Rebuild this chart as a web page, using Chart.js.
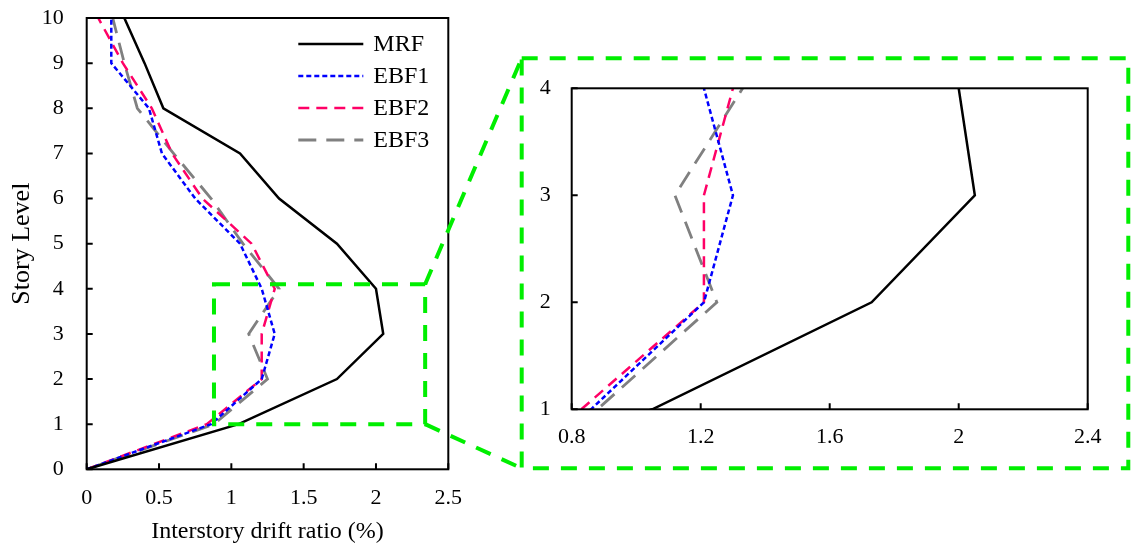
<!DOCTYPE html>
<html><head><meta charset="utf-8">
<script src="https://cdn.jsdelivr.net/npm/chart.js@4.4.1/dist/chart.umd.min.js"></script>
<style>
html,body{margin:0;padding:0;background:#fff;}
#wrap{position:relative;width:1131px;height:550px;overflow:hidden;}
canvas{position:absolute;left:0;top:0;}
</style></head><body>
<div id="wrap"><canvas id="main" width="1131" height="550"></canvas><canvas id="inset" width="1131" height="550"></canvas></div>
<script>
// ---- data ----
const stories = [0, 1, 2, 3, 4, 5, 6, 7, 8, 9, 10];
const mrf  = [0, 1.05, 1.73, 2.05, 2.00, 1.73, 1.33, 1.06, 0.53, 0.40, 0.26];
const ebf1 = [0, 0.86, 1.21, 1.30, 1.21, 1.06, 0.75, 0.52, 0.43, 0.17, 0.17];
const ebf2 = [0, 0.83, 1.21, 1.21, 1.30, 1.14, 0.80, 0.59, 0.45, 0.25, 0.08];
const ebf3 = [0, 0.88, 1.25, 1.12, 1.33, 1.08, 0.86, 0.60, 0.35, 0.26, 0.18];
const seriesNames = ['MRF', 'EBF1', 'EBF2', 'EBF3'];
const mainXTicks = [0, 0.5, 1, 1.5, 2, 2.5];
const mainXLabels = ['0', '0.5', '1', '1.5', '2', '2.5'];
const mainYTicks = [0, 1, 2, 3, 4, 5, 6, 7, 8, 9, 10];
const mainYLabels = ['0', '1', '2', '3', '4', '5', '6', '7', '8', '9', '10'];
const insetXTicks = [0.8, 1.2, 1.6, 2.0, 2.4];
const insetXLabels = ['0.8', '1.2', '1.6', '2', '2.4'];
const insetYTicks = [1, 2, 3, 4];
const insetYLabels = ['1', '2', '3', '4'];
const zoomX = [0.88, 2.34];
const zoomY = [1, 4.1];

// ---- styles ----
const FONT = 'Liberation Serif';
const styles = [
  {color: '#000000', dash: [], width: 2.5},
  {color: '#0000ff', dash: [5, 3], width: 2.5},
  {color: '#ff0066', dash: [11, 7], width: 2.5},
  {color: '#808080', dash: [18, 10], width: 2.8}
];
const GREEN = '#00ee00';

function makeDatasets() {
  return [mrf, ebf1, ebf2, ebf3].map((vals, i) => ({
    label: seriesNames[i],
    data: vals.map((v, k) => ({x: v, y: stories[k]})),
    borderColor: styles[i].color,
    backgroundColor: styles[i].color,
    borderDash: styles[i].dash,
    borderWidth: styles[i].width,
    borderCapStyle: 'butt',
    pointRadius: 0,
    fill: false,
    tension: 0,
    clip: 0
  }));
}

function linScale(min, max, tickVals, tickLabels, isX, size, pad, fontSize, title, titlePad, titleSize) {
  return {
    type: 'linear', min: min, max: max,
    afterBuildTicks: s => { s.ticks = tickVals.map(v => ({value: v})); },
    afterFit: s => {
      if (isX) s.height = size; else s.width = size;
      s.paddingTop = 0; s.paddingBottom = 0; s.paddingLeft = 0; s.paddingRight = 0;
    },
    grid: {display: false, drawTicks: false},
    border: {display: false},
    ticks: {
      padding: pad, color: '#000', autoSkip: false, maxRotation: 0,
      font: {family: FONT, size: fontSize},
      callback: (v, i) => tickLabels[i]
    },
    title: title ? {display: true, text: title, color: '#000', font: {family: FONT, size: titleSize}, padding: titlePad} : {display: false}
  };
}

const framePlugin = {
  id: 'frame',
  afterDatasetsDraw(chart) {
    const {ctx, chartArea: a} = chart;
    const x = chart.scales.x, y = chart.scales.y;
    ctx.save();
    ctx.strokeStyle = '#000';
    ctx.lineWidth = 2;
    ctx.setLineDash([]);
    ctx.strokeRect(a.left, a.top, a.right - a.left, a.bottom - a.top);
    ctx.beginPath();
    x.ticks.forEach(t => { const p = x.getPixelForValue(t.value); ctx.moveTo(p, a.bottom); ctx.lineTo(p, a.bottom - 6); });
    y.ticks.forEach(t => { const p = y.getPixelForValue(t.value); ctx.moveTo(a.left, p); ctx.lineTo(a.left + 6, p); });
    ctx.stroke();
    ctx.restore();
  }
};

const legendPlugin = {
  id: 'customLegend',
  afterDraw(chart) {
    const {ctx, chartArea: a} = chart;
    chart.data.datasets.forEach((ds, i) => {
      const yy = a.top + 26 + i * 32;
      ctx.save();
      ctx.strokeStyle = ds.borderColor;
      ctx.lineWidth = ds.borderWidth;
      ctx.lineCap = 'butt';
      ctx.setLineDash(ds.borderDash);
      ctx.beginPath();
      ctx.moveTo(a.right - 150, yy);
      ctx.lineTo(a.right - 85, yy);
      ctx.stroke();
      ctx.setLineDash([]);
      ctx.fillStyle = '#000';
      ctx.font = '24px "' + FONT + '"';
      ctx.textBaseline = 'middle';
      ctx.textAlign = 'left';
      ctx.fillText(ds.label, a.right - 75, yy + 1);
      ctx.restore();
    });
  }
};

const mainChart = new Chart(document.getElementById('main'), {
  type: 'line',
  data: {datasets: makeDatasets()},
  options: {
    responsive: false, animation: false, devicePixelRatio: 1,
    layout: {padding: {left: 0, top: 18, right: 682.7, bottom: 0}},
    plugins: {legend: {display: false}, tooltip: {enabled: false}},
    scales: {
      x: linScale(0, 2.5, mainXTicks, mainXLabels, true, 80.7, 15.5, 22, 'Interstory drift ratio (%)', {top: 0, bottom: 3.6}, 24),
      y: linScale(0, 10, mainYTicks, mainYLabels, false, 86.7, 23, 22, 'Story Level', {top: 6.4, bottom: 0}, 26)
    }
  },
  plugins: [framePlugin, legendPlugin]
});

const zoomPlugin = {
  id: 'zoomLines',
  afterDraw(chart) {
    const {ctx, chartArea: a} = chart;
    const mx = mainChart.scales.x, my = mainChart.scales.y;
    const L = mx.getPixelForValue(zoomX[0]), R = mx.getPixelForValue(zoomX[1]);
    const T = my.getPixelForValue(zoomY[1]), B = my.getPixelForValue(zoomY[0]);
    const oL = a.left - 50, oT = a.top - 30, oR = a.right + 40.6, oB = a.bottom + 59;
    ctx.save();
    ctx.strokeStyle = GREEN;
    ctx.lineWidth = 4;
    ctx.lineCap = 'butt';
    ctx.setLineDash([16, 12]);
    ctx.strokeRect(L, T, R - L, B - T);
    ctx.strokeRect(oL, oT, oR - oL, oB - oT);
    ctx.beginPath();
    ctx.moveTo(R, T); ctx.lineTo(oL, oT);
    ctx.moveTo(R, B); ctx.lineTo(oL, oB);
    ctx.stroke();
    ctx.restore();
  }
};

const insetChart = new Chart(document.getElementById('inset'), {
  type: 'line',
  data: {datasets: makeDatasets()},
  options: {
    responsive: false, animation: false, devicePixelRatio: 1,
    layout: {padding: {left: 0, top: 88.3, right: 43.3, bottom: 0}},
    plugins: {legend: {display: false}, tooltip: {enabled: false}},
    scales: {
      x: linScale(0.8, 2.4, insetXTicks, insetXLabels, true, 140.7, 15, 22, null, null, 0),
      y: linScale(1, 4, insetYTicks, insetYLabels, false, 571.7, 21, 22, null, null, 0)
    }
  },
  plugins: [framePlugin, zoomPlugin]
});
</script>
</body></html>
